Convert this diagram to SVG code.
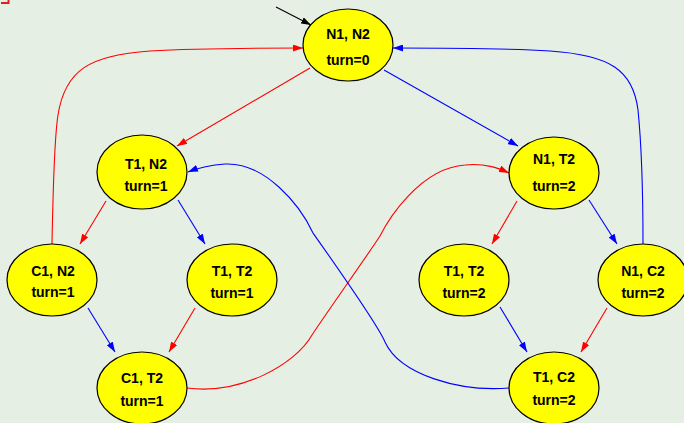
<svg xmlns="http://www.w3.org/2000/svg" width="684" height="423" viewBox="0 0 684 423">
<defs>
<style>
.node ellipse{fill:#ffff00;stroke:#000;stroke-width:1.2}
.node text{font-family:"Liberation Sans",Arial,sans-serif;font-weight:bold;font-size:14px;fill:#000;text-anchor:middle}
.e{fill:none;stroke-width:1.1}
.r{stroke:#ff0000;marker-end:url(#ar)}
.b{stroke:#0000ff;marker-end:url(#ab)}
.k{stroke:#000;marker-end:url(#ak)}
</style>
<marker id="ar" markerUnits="userSpaceOnUse" markerWidth="10" markerHeight="7" refX="10" refY="3.5" orient="auto"><path d="M0,0 L10,3.5 L0,7 z" fill="#ff0000"/></marker>
<marker id="ab" markerUnits="userSpaceOnUse" markerWidth="10" markerHeight="7" refX="10" refY="3.5" orient="auto"><path d="M0,0 L10,3.5 L0,7 z" fill="#0000ff"/></marker>
<marker id="ak" markerUnits="userSpaceOnUse" markerWidth="10" markerHeight="7" refX="10" refY="3.5" orient="auto"><path d="M0,0 L10,3.5 L0,7 z" fill="#000"/></marker>
</defs>
<rect x="0" y="0" width="684" height="423" fill="#e5efe3"/>
<path d="M1,3 H8.5 V0" fill="none" stroke="#e02020" stroke-width="2"/>
<g id="connectors">
<path class="e k" d="M276,7 L311,25"/>
<path class="e r" d="M310,68 L177,146"/>
<path class="e b" d="M384,70 L518,146"/>
<path class="e r" d="M52,244 C53,190 54,140 58,115 C65,70 90,55 150,51 C200,48 260,48 303,48"/>
<path class="e b" d="M643,244 C643,200 642,150 638,110 C633,70 610,55 550,51 C500,48 440,48 393,48"/>
<path class="e r" d="M106,201 L80,244"/>
<path class="e b" d="M178,200 L205,244"/>
<path class="e b" d="M88,308 L115,352"/>
<path class="e r" d="M195,308 L169,352"/>
<path class="e r" d="M187,388 C240,395 295,365 312,335 C323,318 369,253 380,236 C388,220 420,168 465,165 C485,163 498,168 509,173"/>
<path class="e b" d="M509,388 C460,392 400,375 385,342 C378,325 325,250 313,233 C300,205 265,162 225,164 C210,165 198,168 188,172"/>
<path class="e r" d="M517,201 L492,244"/>
<path class="e b" d="M589,200 L617,244"/>
<path class="e b" d="M500,307 L527,352"/>
<path class="e r" d="M607,308 L581,352"/>
</g>
<g id="n1n2" class="node"><ellipse cx="348" cy="45" rx="45" ry="36"/><text x="348" y="39">N1, N2</text><text x="348" y="65">turn=0</text></g>
<g id="t1n2" class="node"><ellipse cx="142" cy="172" rx="45" ry="37"/><text x="146" y="169">T1, N2</text><text x="146" y="191">turn=1</text></g>
<g id="n1t2" class="node"><ellipse cx="554" cy="173" rx="45" ry="36"/><text x="554" y="164">N1, T2</text><text x="554" y="191">turn=2</text></g>
<g id="c1n2" class="node"><ellipse cx="52" cy="280" rx="45" ry="36"/><text x="53" y="276">C1, N2</text><text x="53" y="297">turn=1</text></g>
<g id="t1t2a" class="node"><ellipse cx="232" cy="280" rx="45" ry="36"/><text x="232" y="276">T1, T2</text><text x="232" y="298">turn=1</text></g>
<g id="t1t2b" class="node"><ellipse cx="464" cy="280" rx="45" ry="36"/><text x="464" y="276">T1, T2</text><text x="464" y="298">turn=2</text></g>
<g id="n1c2" class="node"><ellipse cx="643" cy="280" rx="45" ry="36"/><text x="643" y="276">N1, C2</text><text x="643" y="298">turn=2</text></g>
<g id="c1t2" class="node"><ellipse cx="142" cy="388" rx="45" ry="36"/><text x="142" y="383">C1, T2</text><text x="142" y="406">turn=1</text></g>
<g id="t1c2" class="node"><ellipse cx="554" cy="388" rx="45" ry="36"/><text x="554" y="382">T1, C2</text><text x="554" y="405">turn=2</text></g>
</svg>
